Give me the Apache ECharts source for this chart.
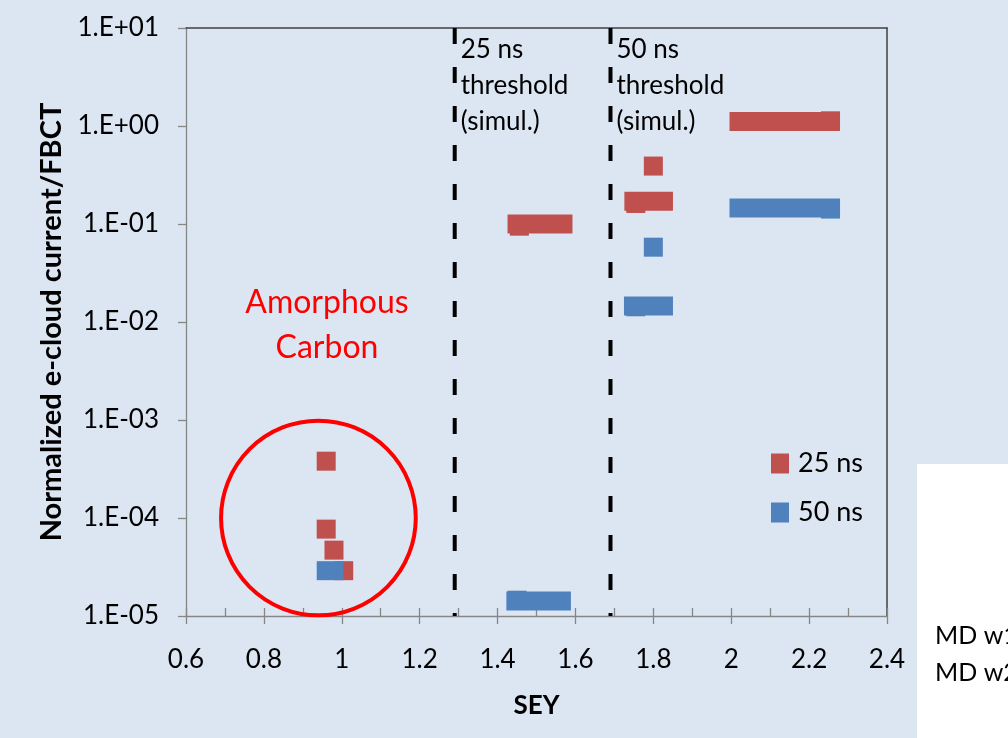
<!DOCTYPE html>
<html>
<head>
<meta charset="utf-8">
<script src="https://cdn.jsdelivr.net/npm/echarts@6/dist/echarts.min.js"></script>
<style>
html,body{margin:0;padding:0;background:#DCE6F2;}
#chart{width:1008px;height:738px;}
</style>
</head>
<body>
<div id="chart"></div>
<script>
// ---- data ----
// each item: [SEY start, SEY end, normalized current]; single markers have start == end
const series25ns = [
  [0.96, 0.96, 3.8e-4],
  [0.96, 0.96, 7.7e-5],
  [0.98, 0.98, 4.7e-5],
  [1.005, 1.005, 2.9e-5],
  [1.456, 1.456, 0.095],
  [1.45, 1.568, 0.1],
  [1.80, 1.80, 0.39],
  [1.755, 1.755, 0.162],
  [1.75, 1.826, 0.171],
  [2.02, 2.255, 1.11],
  [2.255, 2.255, 1.13]
];
const series50ns = [
  [0.96, 0.98, 2.9e-5],
  [1.45, 1.45, 1.45e-5],
  [1.447, 1.564, 1.42e-5],
  [1.80, 1.80, 0.058],
  [1.755, 1.755, 0.0143],
  [1.749, 1.826, 0.0146],
  [2.02, 2.255, 0.146],
  [2.255, 2.255, 0.142]
];
const thresholdSEY = [1.29, 1.69];
const thresholdLabels = [['25 ns', 'threshold', '(simul.)'], ['50 ns', 'threshold', '(simul.)']];
const seriesNames = ['25 ns', '50 ns'];
const xTicks = [0.6, 0.8, 1, 1.2, 1.4, 1.6, 1.8, 2, 2.2, 2.4];
const yTickLabels = ['1.E-05', '1.E-04', '1.E-03', '1.E-02', '1.E-01', '1.E+00', '1.E+01'];
const circleCenter = [0.94, 1.0e-4];
const circleRadiusSEY = 0.25;
const annotationText = ['Amorphous', 'Carbon'];
const annotationAt = [0.962, 9.3e-3];
const sideTexts = ['MD w1', 'MD w2'];

const RED = '#C0504D', BLUE = '#4F81BD';
const MARK = 19;
const FONT = 'Lato, "Open Sans", sans-serif';

const chart = echarts.init(document.getElementById('chart'));

function rangeRenderer(color) {
  return function (params, api) {
    const p1 = api.coord([api.value(0), api.value(2)]);
    const p2 = api.coord([api.value(1), api.value(2)]);
    return {
      type: 'rect',
      shape: { x: p1[0] - MARK / 2, y: p1[1] - MARK / 2, width: p2[0] - p1[0] + MARK, height: MARK },
      style: { fill: color }
    };
  };
}

const thresholdSeries = thresholdSEY.map(function (x) {
  return {
    type: 'line', xAxisIndex: 0, yAxisIndex: 0, symbol: 'none', silent: true,
    data: [[x, 10], [x, 1e-5]],
    lineStyle: { color: '#000', width: 4, type: [16, 23] },
    z: 3
  };
});

chart.setOption({
  backgroundColor: '#DCE6F2',
  animation: false,
  grid: { left: 186, right: 121, top: 28, bottom: 122 },
  legend: {
    orient: 'vertical', left: 771, top: 450, padding: 0,
    itemWidth: 18, itemHeight: 20, itemGap: 22,
    icon: 'rect',
    data: seriesNames,
    textStyle: { fontFamily: FONT, fontSize: 27, lineHeight: 20, color: '#000', padding: [0, 0, 0, 4] }
  },
  xAxis: [
    {
      type: 'value', min: 0.6, max: 2.4, interval: 0.2, position: 'bottom',
      axisLine: { show: true, lineStyle: { color: '#868686', width: 1.3 } },
      axisTick: { show: true, inside: false, length: 8, lineStyle: { color: '#868686', width: 1.3 } },
      axisLabel: {
        margin: 31, fontFamily: FONT, fontSize: 26, color: '#000',
        formatter: function (v) {
          const t = xTicks.find(function (k) { return Math.abs(k - v) < 1e-6; });
          return t === undefined ? '' : String(t);
        }
      },
      splitLine: { show: false },
      name: 'SEY', nameLocation: 'middle', nameGap: 77,
      nameTextStyle: { fontFamily: FONT, fontSize: 26, fontWeight: 'bold', color: '#000' }
    },
    {
      type: 'value', min: 0.6, max: 2.4, interval: 0.1, position: 'bottom',
      axisLine: { show: false },
      axisTick: { show: true, inside: true, length: 8, lineStyle: { color: '#868686', width: 1.3 } },
      axisLabel: { show: false }, splitLine: { show: false }
    },
    {
      type: 'value', min: 0.6, max: 2.4, position: 'top',
      axisLine: { show: true, lineStyle: { color: '#404040', width: 1.5 } },
      axisTick: { show: false }, axisLabel: { show: false }, splitLine: { show: false }
    }
  ],
  yAxis: [
    {
      type: 'log', logBase: 10, min: 1e-5, max: 10, position: 'left',
      axisLine: { show: true, lineStyle: { color: '#868686', width: 1.3 } },
      axisTick: { show: true, inside: false, length: 8, lineStyle: { color: '#868686', width: 1.3 } },
      axisLabel: {
        margin: 27, fontFamily: FONT, fontSize: 26, color: '#000',
        formatter: function (v) {
          const e = Math.round(Math.log10(v));
          return yTickLabels[e + 5] || '';
        }
      },
      splitLine: { show: false },
      name: 'Normalized e-cloud current/FBCT', nameLocation: 'middle', nameGap: 119,
      nameTextStyle: { fontFamily: FONT, fontSize: 29, fontWeight: 'bold', color: '#000' }
    },
    {
      type: 'log', logBase: 10, min: 1e-5, max: 10, position: 'right',
      axisLine: { show: true, lineStyle: { color: '#404040', width: 1.5 } },
      axisTick: { show: false }, axisLabel: { show: false }, splitLine: { show: false }
    }
  ],
  series: thresholdSeries.concat([
    {
      name: seriesNames[0], type: 'custom', xAxisIndex: 0, yAxisIndex: 0,
      renderItem: rangeRenderer(RED), itemStyle: { color: RED },
      encode: { x: [0, 1], y: 2 }, data: series25ns, z: 4
    },
    {
      name: seriesNames[1], type: 'custom', xAxisIndex: 0, yAxisIndex: 0,
      renderItem: rangeRenderer(BLUE), itemStyle: { color: BLUE },
      encode: { x: [0, 1], y: 2 }, data: series50ns, z: 5
    }
  ])
});

// annotations placed through the chart's scales
function px(pt) { return chart.convertToPixel({ xAxisIndex: 0, yAxisIndex: 0 }, pt); }
const graphics = [];
const c = px(circleCenter);
const cr = px([circleCenter[0] + circleRadiusSEY, circleCenter[1]])[0] - c[0];
graphics.push({ type: 'circle', shape: { cx: c[0], cy: c[1], r: cr }, style: { fill: 'none', stroke: '#FF0000', lineWidth: 4 }, z: 10 });
const a = px(annotationAt);
graphics.push({ type: 'text', x: a[0], y: a[1], style: { text: annotationText.join('\n'), fill: '#FF0000', font: '32px ' + FONT, align: 'center', verticalAlign: 'middle', lineHeight: 45 }, z: 10 });
thresholdSEY.forEach(function (x, i) {
  const p = px([x, 10]);
  graphics.push({ type: 'text', x: p[0] + 6, y: p[1] + 4, style: { text: thresholdLabels[i].join('\n'), fill: '#000', font: '26px ' + FONT, align: 'left', verticalAlign: 'top', lineHeight: 36 }, z: 10 });
});
graphics.push({ type: 'rect', shape: { x: 917, y: 464, width: 91, height: 274 }, style: { fill: '#FFFFFF' }, z: 1 });
graphics.push({ type: 'text', x: 935, y: 654, style: { text: sideTexts.join('\n'), fill: '#000', font: '25px ' + FONT, align: 'left', verticalAlign: 'middle', lineHeight: 37 }, z: 2 });
chart.setOption({ graphic: graphics });
</script>
</body>
</html>
